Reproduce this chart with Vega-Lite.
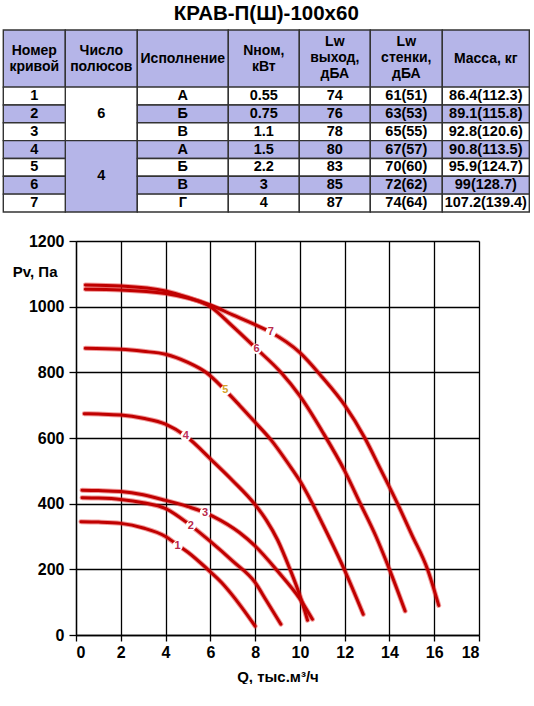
{
  "$schema": "https://vega.github.io/schema/vega-lite/v6.json",
  "background": "white",
  "padding": {"left": 2, "top": 3, "right": 4, "bottom": 0},
  "title": {"text": "КРАВ-П(Ш)-100x60", "font": "Liberation Sans", "fontSize": 20.5, "fontWeight": "bold", "color": "black", "anchor": "middle", "offset": 5},
  "config": {"view": {"stroke": null}, "font": "Liberation Sans"},
  "spacing": 20,
  "datasets": {
    "cols": [
      {"c": 0, "x0": 0, "x1": 62},
      {"c": 1, "x0": 62, "x1": 134},
      {"c": 2, "x0": 134, "x1": 225},
      {"c": 3, "x0": 225, "x1": 296},
      {"c": 4, "x0": 296, "x1": 367},
      {"c": 5, "x0": 367, "x1": 439},
      {"c": 6, "x0": 439, "x1": 526}
    ],
    "cells": [
      {"c": 0, "r0": 0, "r1": 3.2, "s": "h", "t": "Номер\nкривой"},
      {"c": 1, "r0": 0, "r1": 3.2, "s": "h", "t": "Число\nполюсов"},
      {"c": 2, "r0": 0, "r1": 3.2, "s": "h", "t": "Исполнение"},
      {"c": 3, "r0": 0, "r1": 3.2, "s": "h", "t": "Nном,\nкВт"},
      {"c": 4, "r0": 0, "r1": 3.2, "s": "h", "t": "Lw\nвыход,\nдБА"},
      {"c": 5, "r0": 0, "r1": 3.2, "s": "h", "t": "Lw\nстенки,\nдБА"},
      {"c": 6, "r0": 0, "r1": 3.2, "s": "h", "t": "Масса, кг"},
      {"c": 1, "r0": 3.2, "r1": 6.2, "s": "w", "t": "6"},
      {"c": 1, "r0": 6.2, "r1": 10.2, "s": "p", "t": "4"},
      {"c": 0, "r0": 3.2, "r1": 4.2, "s": "w", "t": "1"},
      {"c": 2, "r0": 3.2, "r1": 4.2, "s": "w", "t": "А"},
      {"c": 3, "r0": 3.2, "r1": 4.2, "s": "w", "t": "0.55"},
      {"c": 4, "r0": 3.2, "r1": 4.2, "s": "w", "t": "74"},
      {"c": 5, "r0": 3.2, "r1": 4.2, "s": "w", "t": "61(51)"},
      {"c": 6, "r0": 3.2, "r1": 4.2, "s": "w", "t": "86.4(112.3)"},
      {"c": 0, "r0": 4.2, "r1": 5.2, "s": "p", "t": "2"},
      {"c": 2, "r0": 4.2, "r1": 5.2, "s": "p", "t": "Б"},
      {"c": 3, "r0": 4.2, "r1": 5.2, "s": "p", "t": "0.75"},
      {"c": 4, "r0": 4.2, "r1": 5.2, "s": "p", "t": "76"},
      {"c": 5, "r0": 4.2, "r1": 5.2, "s": "p", "t": "63(53)"},
      {"c": 6, "r0": 4.2, "r1": 5.2, "s": "p", "t": "89.1(115.8)"},
      {"c": 0, "r0": 5.2, "r1": 6.2, "s": "w", "t": "3"},
      {"c": 2, "r0": 5.2, "r1": 6.2, "s": "w", "t": "В"},
      {"c": 3, "r0": 5.2, "r1": 6.2, "s": "w", "t": "1.1"},
      {"c": 4, "r0": 5.2, "r1": 6.2, "s": "w", "t": "78"},
      {"c": 5, "r0": 5.2, "r1": 6.2, "s": "w", "t": "65(55)"},
      {"c": 6, "r0": 5.2, "r1": 6.2, "s": "w", "t": "92.8(120.6)"},
      {"c": 0, "r0": 6.2, "r1": 7.2, "s": "p", "t": "4"},
      {"c": 2, "r0": 6.2, "r1": 7.2, "s": "p", "t": "А"},
      {"c": 3, "r0": 6.2, "r1": 7.2, "s": "p", "t": "1.5"},
      {"c": 4, "r0": 6.2, "r1": 7.2, "s": "p", "t": "80"},
      {"c": 5, "r0": 6.2, "r1": 7.2, "s": "p", "t": "67(57)"},
      {"c": 6, "r0": 6.2, "r1": 7.2, "s": "p", "t": "90.8(113.5)"},
      {"c": 0, "r0": 7.2, "r1": 8.2, "s": "w", "t": "5"},
      {"c": 2, "r0": 7.2, "r1": 8.2, "s": "w", "t": "Б"},
      {"c": 3, "r0": 7.2, "r1": 8.2, "s": "w", "t": "2.2"},
      {"c": 4, "r0": 7.2, "r1": 8.2, "s": "w", "t": "83"},
      {"c": 5, "r0": 7.2, "r1": 8.2, "s": "w", "t": "70(60)"},
      {"c": 6, "r0": 7.2, "r1": 8.2, "s": "w", "t": "95.9(124.7)"},
      {"c": 0, "r0": 8.2, "r1": 9.2, "s": "p", "t": "6"},
      {"c": 2, "r0": 8.2, "r1": 9.2, "s": "p", "t": "В"},
      {"c": 3, "r0": 8.2, "r1": 9.2, "s": "p", "t": "3"},
      {"c": 4, "r0": 8.2, "r1": 9.2, "s": "p", "t": "85"},
      {"c": 5, "r0": 8.2, "r1": 9.2, "s": "p", "t": "72(62)"},
      {"c": 6, "r0": 8.2, "r1": 9.2, "s": "p", "t": "99(128.7)"},
      {"c": 0, "r0": 9.2, "r1": 10.2, "s": "w", "t": "7"},
      {"c": 2, "r0": 9.2, "r1": 10.2, "s": "w", "t": "Г"},
      {"c": 3, "r0": 9.2, "r1": 10.2, "s": "w", "t": "4"},
      {"c": 4, "r0": 9.2, "r1": 10.2, "s": "w", "t": "87"},
      {"c": 5, "r0": 9.2, "r1": 10.2, "s": "w", "t": "74(64)"},
      {"c": 6, "r0": 9.2, "r1": 10.2, "s": "w", "t": "107.2(139.4)"}
    ],
    "curves": [
      {"curve": "1", "Q": 0.22, "P": 345}, {"curve": "1", "Q": 1, "P": 344}, {"curve": "1", "Q": 2, "P": 340}, {"curve": "1", "Q": 3, "P": 326}, {"curve": "1", "Q": 4, "P": 300}, {"curve": "1", "Q": 4.5, "P": 276}, {"curve": "1", "Q": 5, "P": 252}, {"curve": "1", "Q": 5.88, "P": 200}, {"curve": "1", "Q": 6.5, "P": 160}, {"curve": "1", "Q": 7, "P": 120}, {"curve": "1", "Q": 7.5, "P": 75}, {"curve": "1", "Q": 8, "P": 27},
      {"curve": "2", "Q": 0.27, "P": 418}, {"curve": "2", "Q": 1, "P": 417}, {"curve": "2", "Q": 2, "P": 413}, {"curve": "2", "Q": 3, "P": 403}, {"curve": "2", "Q": 4, "P": 385}, {"curve": "2", "Q": 5, "P": 340}, {"curve": "2", "Q": 6, "P": 285}, {"curve": "2", "Q": 7, "P": 225}, {"curve": "2", "Q": 8, "P": 160}, {"curve": "2", "Q": 8.5, "P": 105}, {"curve": "2", "Q": 9.15, "P": 33},
      {"curve": "3", "Q": 0.27, "P": 441}, {"curve": "3", "Q": 1, "P": 440}, {"curve": "3", "Q": 2, "P": 437}, {"curve": "3", "Q": 3, "P": 427}, {"curve": "3", "Q": 4, "P": 410}, {"curve": "3", "Q": 5, "P": 391}, {"curve": "3", "Q": 5.76, "P": 373}, {"curve": "3", "Q": 6.1, "P": 362}, {"curve": "3", "Q": 7.3, "P": 312}, {"curve": "3", "Q": 8, "P": 271}, {"curve": "3", "Q": 9, "P": 195}, {"curve": "3", "Q": 10, "P": 110}, {"curve": "3", "Q": 10.56, "P": 48},
      {"curve": "4", "Q": 0.37, "P": 674}, {"curve": "4", "Q": 1, "P": 673}, {"curve": "4", "Q": 2, "P": 670}, {"curve": "4", "Q": 3, "P": 660}, {"curve": "4", "Q": 4, "P": 642}, {"curve": "4", "Q": 4.9, "P": 606}, {"curve": "4", "Q": 6.1, "P": 530}, {"curve": "4", "Q": 7, "P": 470}, {"curve": "4", "Q": 8, "P": 397}, {"curve": "4", "Q": 8.5, "P": 350}, {"curve": "4", "Q": 9, "P": 290}, {"curve": "4", "Q": 9.53, "P": 205}, {"curve": "4", "Q": 10, "P": 120}, {"curve": "4", "Q": 10.34, "P": 45},
      {"curve": "5", "Q": 0.42, "P": 873}, {"curve": "5", "Q": 2, "P": 870}, {"curve": "5", "Q": 3, "P": 864}, {"curve": "5", "Q": 4, "P": 855}, {"curve": "5", "Q": 5, "P": 830}, {"curve": "5", "Q": 5.8, "P": 800}, {"curve": "5", "Q": 6.67, "P": 745}, {"curve": "5", "Q": 7.3, "P": 700}, {"curve": "5", "Q": 8, "P": 648}, {"curve": "5", "Q": 8.7, "P": 595}, {"curve": "5", "Q": 9.5, "P": 520}, {"curve": "5", "Q": 10.04, "P": 465}, {"curve": "5", "Q": 10.56, "P": 400}, {"curve": "5", "Q": 11, "P": 340}, {"curve": "5", "Q": 11.98, "P": 200}, {"curve": "5", "Q": 12.83, "P": 63},
      {"curve": "6", "Q": 0.42, "P": 1066}, {"curve": "6", "Q": 2, "P": 1063}, {"curve": "6", "Q": 4, "P": 1048}, {"curve": "6", "Q": 5, "P": 1028}, {"curve": "6", "Q": 6, "P": 1000}, {"curve": "6", "Q": 7, "P": 940}, {"curve": "6", "Q": 8.06, "P": 872}, {"curve": "6", "Q": 9.15, "P": 800}, {"curve": "6", "Q": 10, "P": 728}, {"curve": "6", "Q": 11, "P": 620}, {"curve": "6", "Q": 12, "P": 500}, {"curve": "6", "Q": 12.7, "P": 400}, {"curve": "6", "Q": 13.4, "P": 300}, {"curve": "6", "Q": 14, "P": 200}, {"curve": "6", "Q": 14.7, "P": 73},
      {"curve": "7", "Q": 0.42, "P": 1053}, {"curve": "7", "Q": 2, "P": 1051}, {"curve": "7", "Q": 4, "P": 1040}, {"curve": "7", "Q": 6, "P": 1005}, {"curve": "7", "Q": 7, "P": 975}, {"curve": "7", "Q": 8, "P": 945}, {"curve": "7", "Q": 8.7, "P": 922}, {"curve": "7", "Q": 10, "P": 860}, {"curve": "7", "Q": 11, "P": 785}, {"curve": "7", "Q": 12, "P": 700}, {"curve": "7", "Q": 12.9, "P": 600}, {"curve": "7", "Q": 13.6, "P": 505}, {"curve": "7", "Q": 14.36, "P": 400}, {"curve": "7", "Q": 15, "P": 305}, {"curve": "7", "Q": 15.7, "P": 200}, {"curve": "7", "Q": 16.2, "P": 90}
    ],
    "labels": [
      {"curve": "1", "Q": 4.54, "P": 272},
      {"curve": "2", "Q": 5.13, "P": 333},
      {"curve": "3", "Q": 5.76, "P": 373},
      {"curve": "4", "Q": 4.9, "P": 606},
      {"curve": "5", "Q": 6.67, "P": 745},
      {"curve": "6", "Q": 8.06, "P": 872},
      {"curve": "7", "Q": 8.7, "P": 922}
    ]
  },
  "vconcat": [
    {
      "width": 403,
      "height": 182,
      "data": {"name": "cells"},
      "transform": [
        {"lookup": "c", "from": {"data": {"name": "cols"}, "key": "c", "fields": ["x0", "x1"]}},
        {"calculate": "(datum.x0 + datum.x1) / 2", "as": "xm"},
        {"calculate": "(datum.r0 + datum.r1) / 2 - (length(split(datum.t, '\\n')) - 1) * 0.45", "as": "ym"}
      ],
      "layer": [
        {
          "mark": {"type": "rect", "stroke": "#333333", "strokeWidth": 1.4},
          "encoding": {
            "x": {"field": "x0", "type": "quantitative", "scale": {"domain": [0, 526], "range": [-72.7, 453.3], "nice": false, "zero": false}, "axis": null},
            "x2": {"field": "x1"},
            "y": {"field": "r0", "type": "quantitative", "scale": {"domain": [0, 10.2], "nice": false, "zero": false, "reverse": true}, "axis": null},
            "y2": {"field": "r1"},
            "fill": {"field": "s", "type": "nominal", "scale": {"domain": ["h", "w", "p"], "range": ["#b5b5e8", "#ffffff", "#b5b5e8"]}, "legend": null}
          }
        },
        {
          "mark": {"type": "text", "font": "Liberation Sans", "fontWeight": "bold", "lineBreak": "\n", "lineHeight": 16, "align": "center", "baseline": "middle", "color": "black"},
          "encoding": {
            "x": {"field": "xm", "type": "quantitative"},
            "y": {"field": "ym", "type": "quantitative"},
            "text": {"field": "t", "type": "nominal"},
            "size": {"condition": {"test": "datum.s === 'h'", "value": 14}, "value": 14.5}
          }
        }
      ]
    },
    {
      "width": 403,
      "height": 394,
      "encoding": {
        "x": {
          "field": "Q", "type": "quantitative",
          "scale": {"domain": [0, 18], "nice": false, "zero": false},
          "axis": {"values": [0, 2, 4, 6, 8, 10, 12, 14, 16, 18], "grid": true, "gridColor": "black", "gridWidth": 1.3, "gridOpacity": 1, "domainColor": "black", "domainWidth": 1.3, "tickColor": "black", "tickWidth": 1.3, "tickSize": 6, "labelFont": "Liberation Sans", "labelFontWeight": "bold", "labelFontSize": 16, "labelColor": "black", "labelPadding": 3, "title": "Q, тыс.м³/ч", "titleFont": "Liberation Sans", "titleFontWeight": "bold", "titleFontSize": 15, "titleColor": "black", "titlePadding": 9}
        },
        "y": {
          "field": "P", "type": "quantitative",
          "scale": {"domain": [0, 1200], "nice": false, "zero": false},
          "axis": {"values": [0, 200, 400, 600, 800, 1000, 1200], "format": "d", "grid": true, "gridColor": "black", "gridWidth": 1.3, "gridOpacity": 1, "domainColor": "black", "domainWidth": 1.3, "tickColor": "black", "tickWidth": 1.3, "tickSize": 7, "labelFont": "Liberation Sans", "labelFontWeight": "bold", "labelFontSize": 16, "labelColor": "black", "labelPadding": 5, "title": "Pv, Па", "titleAngle": 0, "titleAlign": "right", "titleBaseline": "middle", "titleX": -19, "titleY": 30, "titleFont": "Liberation Sans", "titleFontWeight": "bold", "titleFontSize": 15, "titleColor": "black"}
        }
      },
      "layer": [
        {
          "data": {"name": "curves"},
          "mark": {"type": "line", "interpolate": "monotone", "stroke": "#e02020", "strokeWidth": 5, "opacity": 0.45, "strokeCap": "round"},
          "encoding": {"detail": {"field": "curve", "type": "nominal"}}
        },
        {
          "data": {"name": "curves"},
          "mark": {"type": "line", "interpolate": "monotone", "stroke": "#c00000", "strokeWidth": 3, "strokeCap": "round"},
          "encoding": {"detail": {"field": "curve", "type": "nominal"}}
        },
        {
          "data": {"name": "labels"},
          "mark": {"type": "point", "shape": "circle", "filled": true, "color": "white", "size": 110, "opacity": 1},
          "encoding": {}
        },
        {
          "data": {"name": "labels"},
          "mark": {"type": "text", "font": "Liberation Sans", "fontWeight": "bold", "fontSize": 11, "align": "center", "baseline": "middle"},
          "encoding": {
            "text": {"field": "curve", "type": "nominal"},
            "color": {"field": "curve", "type": "nominal", "scale": {"domain": ["1", "2", "3", "4", "5", "6", "7"], "range": ["#b8284a", "#b8284a", "#b8284a", "#c0305a", "#d4a22a", "#b8284a", "#b8284a"]}, "legend": null}
          }
        }
      ]
    }
  ]
}
